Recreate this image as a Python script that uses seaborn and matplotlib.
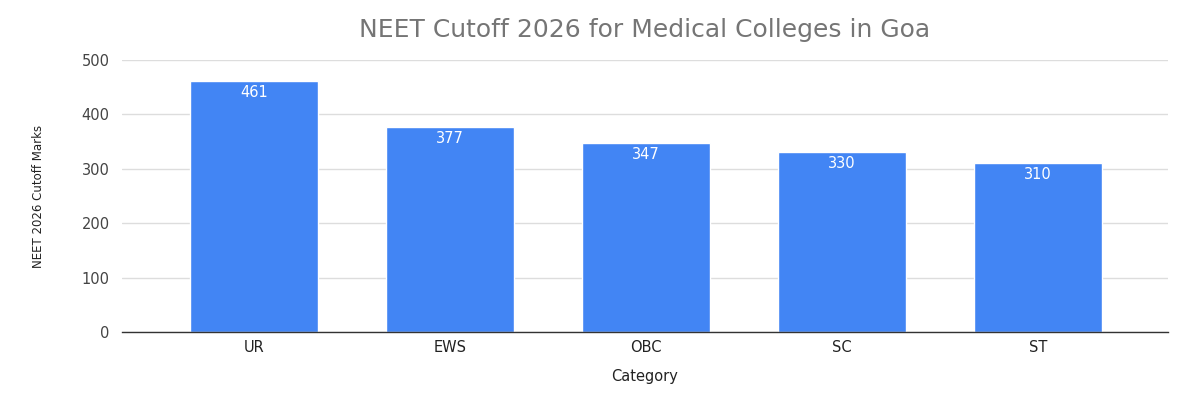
import matplotlib
matplotlib.use("Agg")
import matplotlib.pyplot as plt
import seaborn as sns
import pandas as pd

categories = ["UR", "EWS", "OBC", "SC", "ST"]
cutoff = [461, 377, 347, 330, 310]
yticks = [0, 100, 200, 300, 400, 500]

sns.set_theme(style="white")
plt.rcParams['font.family'] = ['DejaVu Sans']

df = pd.DataFrame({"Category": categories, "Cutoff": cutoff})

fig = plt.figure(figsize=(12, 4), dpi=100)
ax = fig.add_axes([0.1017, 0.17, 0.8716, 0.68])
sns.barplot(data=df, x="Category", y="Cutoff", color="#4285F4", width=0.653,
            saturation=1, ax=ax, zorder=3)
ax.set_xlim(-0.673, 4.663)
ax.set_ylim(0, 500)
ax.set_yticks(yticks)
ax.set_yticklabels([str(t) for t in yticks], fontsize=10.5, color="#444444")
ax.tick_params(axis="x", labelsize=10.5, colors="#222222", length=0, pad=6)
ax.tick_params(axis="y", length=0, pad=9)
ax.yaxis.grid(True, color="#dddddd", linewidth=1, zorder=0)
for s in ["top", "right", "left"]:
    ax.spines[s].set_visible(False)
ax.spines["bottom"].set_color("#333333")
ax.spines["bottom"].set_linewidth(1)
ax.spines["bottom"].set_zorder(4)

for i, v in enumerate(cutoff):
    ax.text(i, v - 7, str(v), ha="center", va="top", color="white", fontsize=10.5,
            zorder=5)

ax.set_xlabel("Category", fontsize=10.5, color="#222222", labelpad=10)
ax.set_ylabel("NEET 2026 Cutoff Marks", fontsize=8.5, color="#222222", labelpad=26)
fig.text(0.5375, 0.925, "NEET Cutoff 2026 for Medical Colleges in Goa",
         ha="center", va="center", fontsize=18, color="#757575")

fig.savefig("out.png", dpi=100, facecolor="white")
